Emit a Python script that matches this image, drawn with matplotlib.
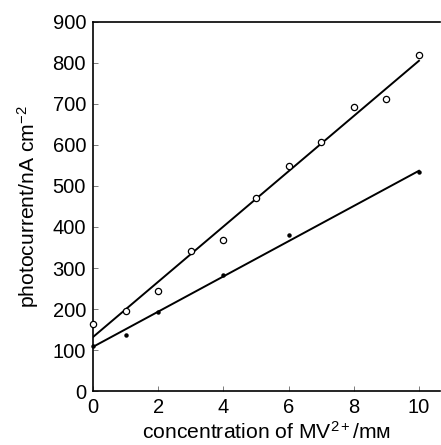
import matplotlib
matplotlib.use("Agg")
import matplotlib.pyplot as plt

plt.rcParams["font.family"] = ["Liberation Sans", "DejaVu Sans"]
plt.rcParams["mathtext.fontset"] = "custom"
plt.rcParams["mathtext.rm"] = "Liberation Sans"
plt.rcParams["mathtext.it"] = "Liberation Sans"

# open circles
conc_open = [0, 1, 2, 3, 4, 5, 6, 7, 8, 9, 10]
cur_open = [163, 195, 244, 342, 368, 471, 549, 606, 693, 713, 818]
# filled dots
conc_fill = [0, 1, 2, 4, 6, 10]
cur_fill = [110, 137, 193, 284, 380, 534]
# fitted lines (end points)
fit_x = [0, 10]
fit_open = [132, 805]
fit_fill = [108, 537]

fig = plt.figure(figsize=(4.41, 4.45), dpi=100)
ax = fig.add_axes([0.211, 0.121, 0.787, 0.830])

ax.plot(fit_x, fit_open, color="black", lw=1.4)
ax.plot(fit_x, fit_fill, color="black", lw=1.4)
ax.plot(conc_open, cur_open, "o", mfc="white", mec="black", mew=0.9, ms=4.5, ls="", clip_on=False, zorder=4)
ax.plot(conc_fill, cur_fill, "o", color="black", ms=2.2, ls="", clip_on=False, zorder=4)

ax.set_xlim(0, 10.65)
ax.set_ylim(0, 900)
ax.set_xticks([0, 2, 4, 6, 8, 10])
ax.set_yticks(range(0, 901, 100))
ax.tick_params(direction="in", length=3.5, width=0.6, color="0.4", labelsize=14.5, pad=5)
ax.spines["right"].set_visible(False)
for s in ["left", "bottom", "top"]:
    ax.spines[s].set_linewidth(1.2)

ax.set_xlabel("concentration of MV$^{\\mathrm{2+}}$/mᴍ", fontsize=15.2, labelpad=3)
ax.set_ylabel("photocurrent/nA cm$^{\\mathrm{-2}}$", fontsize=15.2, labelpad=8)

fig.savefig("out.png", dpi=100)
